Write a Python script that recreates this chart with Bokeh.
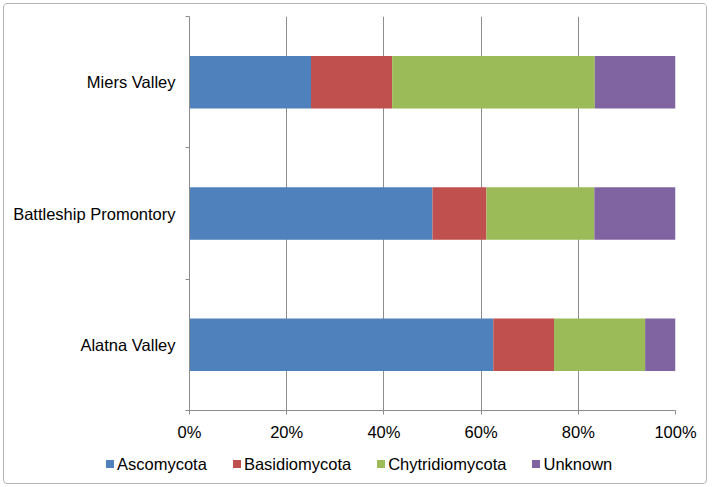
from bokeh.plotting import figure
from bokeh.layouts import column
from bokeh.models import (Range1d, LinearAxis, FixedTicker, Div,
                          PrintfTickFormatter, ColumnDataSource)
from bokeh.embed import file_html
from bokeh.resources import INLINE

sites = ["Alatna Valley", "Battleship Promontory", "Miers Valley"]
phyla = ["Ascomycota", "Basidiomycota", "Chytridiomycota", "Unknown"]
ascomycota = [62.5, 50.0, 25.0]
basidiomycota = [12.5, 11.1, 16.7]
chytridiomycota = [18.75, 22.2, 41.7]
unknown = [6.25, 16.7, 16.6]
x_ticks = [0, 20, 40, 60, 80, 100]
colors = ["#4F81BD", "#C0504D", "#9BBB59", "#8064A2"]

FONT = "Liberation Sans"
FSIZE = "16.5px"
GRAY = "#8c8c8c"

# category slots: site i occupies [i, i+1] on the y scale
centers = [i + 0.5 for i in range(len(sites))]
edges = list(range(len(sites) + 1))

source = ColumnDataSource(dict(y=centers, site=sites, Ascomycota=ascomycota, Basidiomycota=basidiomycota,
                               Chytridiomycota=chytridiomycota, Unknown=unknown))

p = figure(y_range=Range1d(0, len(sites)), x_range=Range1d(0, 100),
           frame_width=486, frame_height=394,
           min_border_left=185, min_border_right=31, min_border_top=12, min_border_bottom=36,
           output_backend="svg", toolbar_location=None, y_axis_location=None)
p.outline_line_color = None
p.background_fill_color = "white"
p.border_fill_color = "white"

renderers = p.hbar_stack(phyla, y="y", height=0.4, color=colors, line_color=None, source=source)

# x axis
p.xaxis.ticker = FixedTicker(ticks=x_ticks)
p.xaxis.formatter = PrintfTickFormatter(format="%d%%")
p.xaxis.major_tick_out = 4
p.xaxis.major_tick_in = 0
p.xaxis.minor_tick_line_color = None
p.xaxis.axis_line_color = GRAY
p.xaxis.major_tick_line_color = GRAY
p.xaxis.major_label_text_font = FONT
p.xaxis.major_label_text_font_size = FSIZE
p.xaxis.major_label_text_color = "black"
p.xaxis.major_label_standoff = 8

p.xgrid.ticker = FixedTicker(ticks=x_ticks)
p.xgrid.grid_line_color = GRAY
p.ygrid.grid_line_color = None

# y axes: boundary ticks + category labels
tick_axis = LinearAxis(ticker=FixedTicker(ticks=edges),
                       major_label_overrides={e: "" for e in edges},
                       major_label_text_font_size="1px", major_label_standoff=0,
                       major_tick_out=4, major_tick_in=0, minor_tick_line_color=None,
                       axis_line_color=GRAY, major_tick_line_color=GRAY)
label_axis = LinearAxis(ticker=FixedTicker(ticks=centers),
                        major_label_overrides={c: s for c, s in zip(centers, sites)},
                        major_tick_line_color=None, major_tick_out=0, major_tick_in=0,
                        minor_tick_line_color=None,
                        axis_line_color=None, major_label_standoff=10,
                        major_label_text_font=FONT, major_label_text_font_size=FSIZE,
                        major_label_text_color="black")
p.add_layout(tick_axis, "left")
p.add_layout(label_axis, "left")

# legend strip below the chart
items_html = "".join(
    f'<span style="display:inline-flex;align-items:center;margin-right:26px;">'
    f'<span style="display:inline-block;width:8px;height:8px;background:{c};margin-right:3px;"></span>'
    f'{ph}</span>'
    for ph, c in zip(phyla, colors)
)
legend_html = (f'<div style="font-family:\'{FONT}\';font-size:{FSIZE};color:black;'
               f'line-height:20px;padding:6px 0 0 102px;white-space:nowrap;">{items_html}</div>')
leg = Div(text=legend_html, width=702, height=37, margin=0)

layout = column(p, leg, spacing=0)
layout.styles = {"border": "1px solid #b4b4b4", "border-radius": "4px", "margin": "3px 0 0 3px",
                 "background-color": "white"}

open("out.html", "w").write(file_html(layout, INLINE))
